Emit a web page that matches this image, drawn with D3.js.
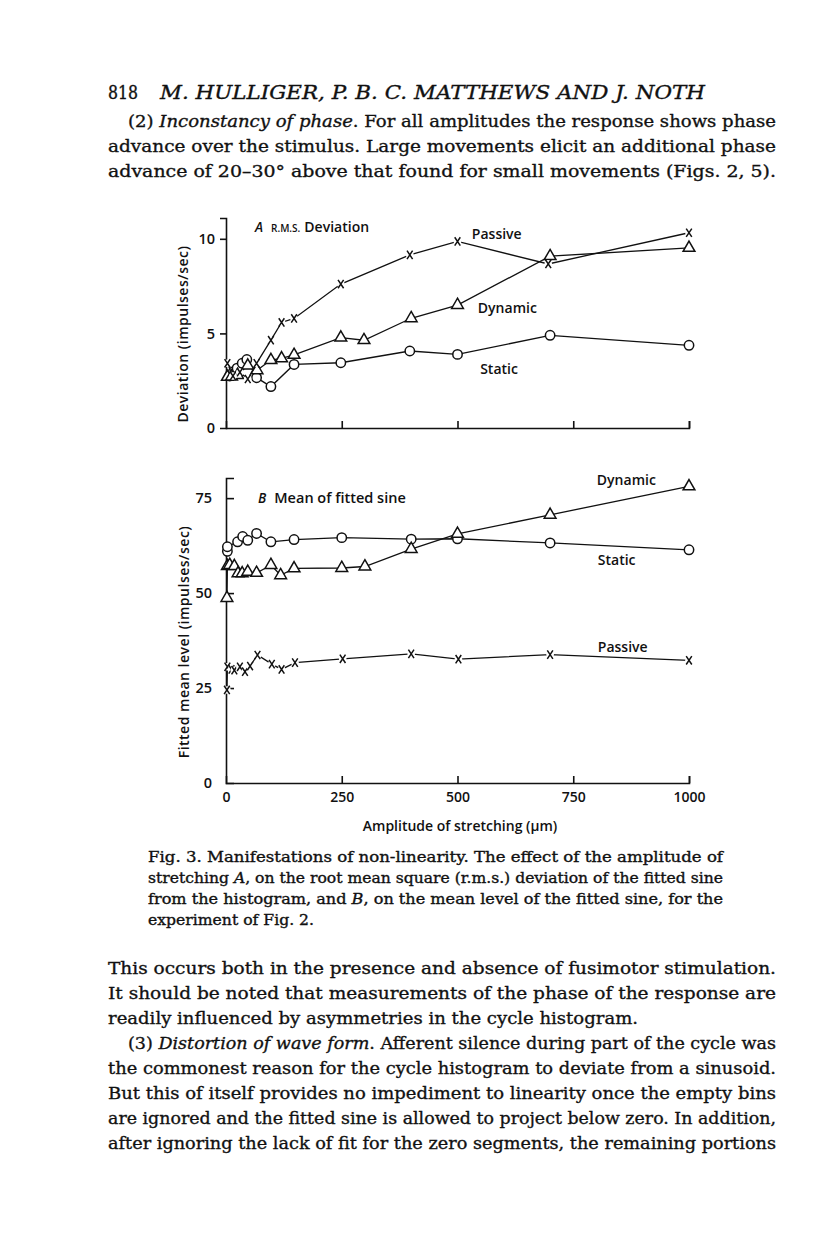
<!DOCTYPE html>
<html lang="en">
<head>
<meta charset="UTF-8">
<title>Fig. 3</title>
<style>
    body { margin: 0; background: #fff; }
    svg text { fill: #111; }
    .serif { font-family: "DejaVu Serif", serif; stroke: #111; stroke-width: 0.35; }
    .sans { font-family: "Open Sans", "DejaVu Sans", sans-serif; }
</style>
</head>
<body>
<svg id="page" width="816" height="1234"></svg>
<script src="https://d3js.org/d3.v7.min.js"></script>
<script>
// amplitude of stretching (um) and responses, panel A (r.m.s. deviation, impulses/sec)
const passiveA_x = [3, 15, 30, 47, 66, 97, 120, 147, 248, 397, 500, 696, 1000];
const passiveA_y = [3.42, 2.75, 2.95, 2.59, 3.42, 4.64, 5.58, 5.79, 7.61, 9.15, 9.86, 8.67, 10.32];
const dynamicA_x = [3, 12, 25, 47, 67, 97, 120, 147, 248, 298, 400, 500, 700, 1000];
const dynamicA_y = [2.7, 2.72, 2.8, 3.3, 3.05, 3.59, 3.68, 3.86, 4.78, 4.64, 5.8, 6.5, 9.08, 9.52];
const staticA_x = [8, 16, 24, 35, 45, 66, 97, 147, 248, 397, 500, 700, 1000];
const staticA_y = [2.75, 2.98, 3.16, 3.42, 3.62, 2.66, 2.19, 3.36, 3.45, 4.07, 3.89, 4.9, 4.37];

// panel B (mean of fitted sine, impulses/sec)
const staticB_x = [3, 3, 25, 36, 47, 66, 97, 147, 250, 400, 500, 700, 1000];
const staticB_y = [61.0, 62.2, 63.5, 64.9, 63.9, 65.7, 63.5, 64.1, 64.6, 64.2, 64.3, 63.2, 61.4];
const dynamicB_x = [2, 3, 8, 18, 26, 35, 47, 66, 97, 118, 147, 250, 300, 400, 500, 700, 1000];
const dynamicB_y = [48.7, 57.1, 57.4, 57.1, 55.2, 55.2, 55.6, 55.3, 57.4, 54.7, 56.5, 56.6, 57.0, 61.6, 65.6, 70.6, 78.1];
const passiveB_x = [2, 3, 12, 18, 30, 41, 52, 68, 99, 120, 149, 252, 400, 502, 700, 1000];
const passiveB_y = [24.5, 30.6, 29.9, 29.7, 30.6, 29.3, 30.8, 33.7, 31.3, 29.9, 31.7, 32.7, 34.0, 32.6, 33.8, 32.3];

const xTicks = [0, 250, 500, 750, 1000];
const yTicksA = [0, 5, 10];
const yTicksB = [0, 25, 50, 75];

const svg = d3.select("#page");

const x = d3.scaleLinear().domain([0, 1000]).range([226, 689]);
const yA = d3.scaleLinear().domain([0, 11.1]).range([428, 218]);
const yB = d3.scaleLinear().domain([0, 80.3]).range([783, 478]);

function zip(xs, ys) { return xs.map((v, i) => [v, ys[i]]); }

function drawAxes(y, yTicks, tickDir, showXLabels) {
    const g = svg.append("g").attr("class", "sans");
    // y axis
    const ya = d3.axisLeft(y).tickValues(yTicks).tickSizeOuter(0)
        .tickSize(tickDir === "out" ? 6 : -8).tickPadding(tickDir === "out" ? 5 : 14);
    const gy = g.append("g").attr("transform", "translate(226,0)").call(ya);
    gy.select(".domain").attr("stroke", "#111").attr("stroke-width", 1.6);
    gy.selectAll(".tick line").attr("stroke", "#111").attr("stroke-width", 1.6)
        .filter(d => d === 0).remove();
    gy.selectAll(".tick text").attr("font-size", 14.5).attr("font-weight", 600)
        .attr("fill", "#111").attr("font-family", "Open Sans");
    // x axis
    const xa = d3.axisBottom(x).tickValues(xTicks).tickSizeOuter(0).tickSize(-7)
        .tickPadding(9).tickFormat(showXLabels ? d3.format("d") : "");
    const gx = g.append("g").attr("transform", `translate(0,${y(0)})`).call(xa);
    gx.select(".domain").attr("stroke", "#111").attr("stroke-width", 1.6);
    gx.selectAll(".tick line").attr("stroke", "#111").attr("stroke-width", 1.6)
        .filter(d => d === 0).remove();
    gx.selectAll(".tick text").attr("font-size", 14).attr("font-weight", 600)
        .attr("fill", "#111").attr("font-family", "Open Sans");
}

const line = y => d3.line().x(d => x(d[0])).y(d => y(d[1]));

function drawSeries(pts, y, kind) {
    svg.append("path").datum(pts).attr("d", line(y))
        .attr("fill", "none").attr("stroke", "#111").attr("stroke-width", 1.3);
    const g = svg.append("g");
    pts.forEach(p => {
        const cx = x(p[0]), cy = y(p[1]);
        if (kind === "circle") {
            g.append("circle").attr("cx", cx).attr("cy", cy).attr("r", 4.7)
                .attr("fill", "#fff").attr("stroke", "#111").attr("stroke-width", 1.5);
        } else if (kind === "tri") {
            g.append("path").attr("d", d3.symbol(d3.symbolTriangle, 60)())
                .attr("transform", `translate(${cx},${cy})`)
                .attr("fill", "#fff").attr("stroke", "#111").attr("stroke-width", 1.5);
        } else {
            g.append("circle").attr("cx", cx).attr("cy", cy).attr("r", 3.8).attr("fill", "#fff");
            g.append("path").attr("d", "M-2.8,-4.2L2.8,4.2M2.8,-4.2L-2.8,4.2")
                .attr("transform", `translate(${cx},${cy})`)
                .attr("stroke", "#111").attr("stroke-width", 1.5).attr("fill", "none");
        }
    });
}

function label(txt, xv, yv, y, size) {
    svg.append("text").attr("class", "sans").attr("x", x(xv)).attr("y", y(yv) + 5)
        .attr("font-size", size || 14).attr("font-weight", 600).text(txt);
}

// ---------- panel A ----------
drawAxes(yA, yTicksA, "out", false);
drawSeries(zip(staticA_x, staticA_y), yA, "circle");
drawSeries(zip(dynamicA_x, dynamicA_y), yA, "tri");
drawSeries(zip(passiveA_x, passiveA_y), yA, "x");
label("Passive", 531, 10.26, yA);
label("Dynamic", 544, 6.35, yA);
label("Static", 549, 3.12, yA);

const tA = svg.append("text").attr("class", "sans").attr("x", 255).attr("y", 232).attr("font-weight", 600);
tA.append("tspan").attr("font-style", "italic").attr("font-size", 13.5).text("A");
tA.append("tspan").attr("dx", 8).attr("font-size", 10).text("R.M.S.");
tA.append("tspan").attr("dx", 4).attr("font-size", 14).text("Deviation");

svg.append("text").attr("class", "sans").attr("transform", "translate(188,334) rotate(-90)")
    .attr("text-anchor", "middle").attr("font-size", 14).attr("font-weight", 600)
    .attr("letter-spacing", 0.5).text("Deviation (impulses/sec)");

// ---------- panel B ----------
drawAxes(yB, yTicksB, "in", true);
drawSeries(zip(staticB_x, staticB_y), yB, "circle");
drawSeries(zip(dynamicB_x, dynamicB_y), yB, "tri");
drawSeries(zip(passiveB_x, passiveB_y), yB, "x");
label("Dynamic", 801, 79.7, yB);
label("Static", 803, 58.7, yB);
label("Passive", 803, 35.8, yB);

const tB = svg.append("text").attr("class", "sans").attr("x", 258).attr("y", 503).attr("font-weight", 600);
tB.append("tspan").attr("font-style", "italic").attr("font-size", 13.5).text("B");
tB.append("tspan").attr("dx", 8).attr("font-size", 14.5).text("Mean of fitted sine");

svg.append("text").attr("class", "sans").attr("transform", "translate(189,642) rotate(-90)")
    .attr("text-anchor", "middle").attr("font-size", 14).attr("font-weight", 600)
    .attr("letter-spacing", 0.5).text("Fitted mean level (impulses/sec)");

svg.append("text").attr("class", "sans").attr("x", 460).attr("y", 831)
    .attr("text-anchor", "middle").attr("font-size", 14).attr("font-weight", 600)
    .text("Amplitude of stretching (\u03BCm)");

// ---------- page text ----------
function textLine(parts, x0, y0, size, width) {
    const t = svg.append("text").attr("class", "serif").attr("x", x0).attr("y", y0)
        .attr("font-size", size);
    parts.forEach(p => {
        const s = t.append("tspan").text(p[0]);
        if (p[1]) s.attr("font-style", "italic");
    });
    if (width) t.attr("textLength", width).attr("lengthAdjust", "spacingAndGlyphs");
    return t;
}

textLine([["818"]], 108, 99, 18, 30);
textLine([["M. HULLIGER, P. B. C. MATTHEWS AND J. NOTH", true]], 160, 99, 19, 545);

textLine([["(2) "], ["Inconstancy of phase", true], [". For all amplitudes the response shows phase"]], 128, 127, 17.5, 648);
textLine([["advance over the stimulus. Large movements elicit an additional phase"]], 108, 152, 17.5, 668);
textLine([["advance of 20\u201330\u00B0 above that found for small movements (Figs. 2, 5)."]], 108, 177, 17.5, 668);

textLine([["Fig. 3. Manifestations of non-linearity. The effect of the amplitude of"]], 148, 862, 14.5, 575);
textLine([["stretching "], ["A", true], [", on the root mean square (r.m.s.) deviation of the fitted sine"]], 148, 883, 14.5, 575);
textLine([["from the histogram, and "], ["B", true], [", on the mean level of the fitted sine, for the"]], 148, 904, 14.5, 575);
textLine([["experiment of Fig. 2."]], 148, 925, 14.5, 166);

textLine([["This occurs both in the presence and absence of fusimotor stimulation."]], 108, 974, 17.5, 668);
textLine([["It should be noted that measurements of the phase of the response are"]], 108, 999, 17.5, 668);
textLine([["readily influenced by asymmetries in the cycle histogram."]], 108, 1024, 17.5, 530);
textLine([["(3) "], ["Distortion of wave form", true], [". Afferent silence during part of the cycle was"]], 128, 1049, 17.5, 648);
textLine([["the commonest reason for the cycle histogram to deviate from a sinusoid."]], 108, 1074, 17.5, 668);
textLine([["But this of itself provides no impediment to linearity once the empty bins"]], 108, 1099, 17.5, 668);
textLine([["are ignored and the fitted sine is allowed to project below zero. In addition,"]], 108, 1124, 17.5, 668);
textLine([["after ignoring the lack of fit for the zero segments, the remaining portions"]], 108, 1149, 17.5, 668);
</script>
</body>
</html>
